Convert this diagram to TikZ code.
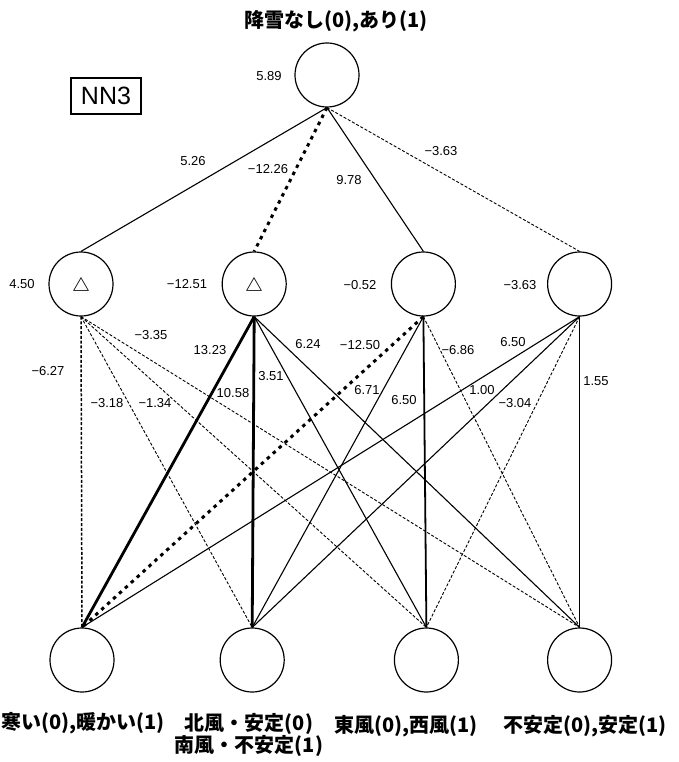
\documentclass[tikz,border=0pt]{standalone}
\usepackage{fontspec}
\setmainfont{Liberation Sans}
\newfontfamily\jp{Noto Sans CJK JP}
\usetikzlibrary{positioning}

\begin{document}
\begin{tikzpicture}[
        x=1pt, y=-1pt,
        font=\fontsize{13}{15}\selectfont, node distance=100pt,
        neuron/.style={draw, circle, line width=1.2pt, minimum size=64pt, inner sep=0pt},
        wlab/.style={inner sep=1pt},
        caption/.style={font=\jp\bfseries\fontsize{20}{20}\selectfont, align=center, inner sep=0pt},
        pw/.style={line width=1.1pt},
        nw/.style={line width=0.9pt, dash pattern=on 3pt off 1.8pt},
        bigpw/.style={line width=2.8pt},
        bignw/.style={line width=3pt, dash pattern=on 3.5pt off 4.5pt}
    ]
        \useasboundingbox (0,0) rectangle (678,762);

        % output layer
        \node[caption] (title) at (336,21) {降雪なし(0),あり(1)};
        \node[draw, line width=1.2pt, minimum width=70pt, minimum height=36pt,
              font=\fontsize{25}{25}\selectfont] (nn) at (106,96) {NN3};
        \node[neuron] (out) at (327,75) {};

        % hidden layer
        \node[neuron] (h1) at (81,284) {\jp\bfseries\fontsize{17}{17}\selectfont △};
        \node[neuron, right=108pt of h1] (h2) {\jp\bfseries\fontsize{17}{17}\selectfont △};
        \node[neuron, right=104pt of h2] (h3) {};
        \node[neuron, right=91pt of h3]  (h4) {};

        % input layer
        \node[neuron] (b1) at (82,660) {};
        \node[neuron, right=105pt of b1] (b2) {};
        \node[neuron, right=109pt of b2] (b3) {};
        \node[neuron, right=88pt of b3]  (b4) {};

        \node[caption] (c1) at (83,723)  {寒い(0),暖かい(1)};
        \node[caption] (c2) at (249,735) {北風・安定(0)\\南風・不安定(1)};
        \node[caption] (c3) at (406,726) {東風(0),西風(1)};
        \node[caption] (c4) at (585,726) {不安定(0),安定(1)};

        % output -> hidden
        \draw[pw]    (out.south) -- (h1.north);
        \draw[bignw] (out.south) -- (h2.north);
        \draw[pw]    (out.south) -- (h3.north);
        \draw[nw]    (out.south) -- (h4.north);

        % hidden -> input
        \draw[nw, line width=1.5pt] (h1.south) -- (b1.north);
        \draw[nw]    (h1.south) -- (b2.north);
        \draw[nw]    (h1.south) -- (b3.north);
        \draw[nw]    (h1.south) -- (b4.north);

        \draw[bigpw] (h2.south) -- (b1.north);
        \draw[bigpw] (h2.south) -- (b2.north);
        \draw[pw]    (h2.south) -- (b3.north);
        \draw[pw]    (h2.south) -- (b4.north);

        \draw[bignw] (h3.south) -- (b1.north);
        \draw[pw]    (h3.south) -- (b2.north);
        \draw[pw, line width=1.8pt] (h3.south) -- (b3.north);
        \draw[nw]    (h3.south) -- (b4.north);

        \draw[pw]    (h4.south) -- (b1.north);
        \draw[pw]    (h4.south) -- (b2.north);
        \draw[nw]    (h4.south) -- (b3.north);
        \draw[pw, line width=1.4pt] (h4.south) -- (b4.north);

        % biases
        \node[wlab] (bo) at (269,76)  {5.89};
        \node[wlab] (bh1) at (22,284) {4.50};
        \node[wlab] (bh2) at (187,284) {−12.51};
        \node[wlab] (bh3) at (360,285) {−0.52};
        \node[wlab] (bh4) at (520,285) {−3.63};

        % weights
        \node[wlab] (wo1) at (193,161) {5.26};
        \node[wlab] (wo2) at (268,169) {−12.26};
        \node[wlab] (wo3) at (349,180) {9.78};
        \node[wlab] (wo4) at (441,151) {−3.63};

        \node[wlab] (w11) at (48,371)  {−6.27};
        \node[wlab] (w12) at (107,403) {−3.18};
        \node[wlab] (w13) at (155,403) {−1.34};
        \node[wlab] (w14) at (151,335) {−3.35};

        \node[wlab] (w21) at (210,350) {13.23};
        \node[wlab] (w22) at (233,393) {10.58};
        \node[wlab] (w23) at (271,376) {3.51};
        \node[wlab] (w24) at (308,344) {6.24};

        \node[wlab] (w31) at (360,345) {−12.50};
        \node[wlab] (w32) at (367,390) {6.71};
        \node[wlab] (w33) at (404,400) {6.50};
        \node[wlab] (w34) at (458,350) {−6.86};

        \node[wlab] (w41) at (513,342) {6.50};
        \node[wlab] (w42) at (482,390) {1.00};
        \node[wlab] (w43) at (515,403) {−3.04};
        \node[wlab] (w44) at (596,381) {1.55};
    \end{tikzpicture}
\end{document}
